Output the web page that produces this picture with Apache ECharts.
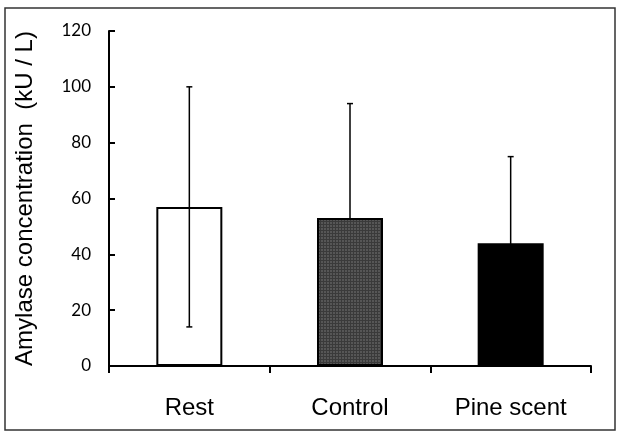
<!DOCTYPE html>
<html>
<head>
<meta charset="utf-8">
<script src="https://cdn.jsdelivr.net/npm/echarts@6/dist/echarts.min.js"></script>
<style>
  html, body { margin: 0; padding: 0; background: #fff; }
  #chart { width: 617px; height: 434px; }
</style>
</head>
<body>
<div id="chart"></div>
<script>
// values
const categories = ['Rest', 'Control', 'Pine scent'];
const meanValues = [57, 53, 44];
const sdValues = [43, 41, 31];
const yTicks = [0, 20, 40, 60, 80, 100, 120];

// Rest bar is left unfilled so its whisker shows through, the others hide it
const barStyles = [
  { color: 'rgba(255,255,255,0)', borderColor: '#000', borderWidth: 2 },
  {
    color: '#3a3a3a', borderColor: '#000', borderWidth: 2,
    decal: { symbol: 'rect', symbolSize: 0.6, dashArrayX: [2, 1], dashArrayY: [2, 1], color: '#9a9a9a' }
  },
  { color: '#000', borderColor: '#000', borderWidth: 2 }
];

const chart = echarts.init(document.getElementById('chart'));

chart.setOption({
  animation: false,
  grid: { left: 109, right: 26, top: 31, bottom: 68, containLabel: false },
  graphic: [{
    type: 'rect',
    shape: { x: 5, y: 8, width: 610, height: 422 },
    style: { fill: 'none', stroke: '#333', lineWidth: 1.5 },
    silent: true
  }],
  xAxis: {
    type: 'category',
    data: categories,
    axisLine: { lineStyle: { color: '#000', width: 2 } },
    axisTick: { show: true, length: 7, lineStyle: { color: '#000', width: 2 } },
    axisLabel: { color: '#000', fontFamily: 'Liberation Sans', fontSize: 24, margin: 30 }
  },
  yAxis: {
    type: 'value',
    min: yTicks[0],
    max: yTicks[yTicks.length - 1],
    interval: 20,
    name: 'Amylase concentration  (kU / L)',
    nameLocation: 'middle',
    nameGap: 72,
    nameTextStyle: { color: '#000', fontFamily: 'Liberation Sans', fontSize: 24 },
    axisLine: { show: true, lineStyle: { color: '#000', width: 2 } },
    axisTick: { show: true, inside: true, length: 6, lineStyle: { color: '#000', width: 2 } },
    axisLabel: { color: '#000', fontFamily: 'Lato', fontSize: 17, margin: 18 },
    splitLine: { show: false }
  },
  series: [
    {
      type: 'custom',
      z: 1,
      data: meanValues.map((v, i) => [i, v - sdValues[i], v + sdValues[i]]),
      renderItem: function (params, api) {
        const x = api.value(0);
        const lo = api.coord([x, api.value(1)]);
        const hi = api.coord([x, api.value(2)]);
        const cap = 3;
        const style = { stroke: '#000', lineWidth: 1.5 };
        return {
          type: 'group',
          children: [
            { type: 'line', shape: { x1: hi[0], y1: hi[1], x2: lo[0], y2: lo[1] }, style: style },
            { type: 'line', shape: { x1: hi[0] - cap, y1: hi[1], x2: hi[0] + cap, y2: hi[1] }, style: style },
            { type: 'line', shape: { x1: lo[0] - cap, y1: lo[1], x2: lo[0] + cap, y2: lo[1] }, style: style }
          ]
        };
      }
    },
    {
      type: 'bar',
      barWidth: 66,
      data: meanValues.map((v, i) => ({ value: v, itemStyle: barStyles[i] })),
      z: 2
    }
  ]
});
</script>
</body>
</html>
